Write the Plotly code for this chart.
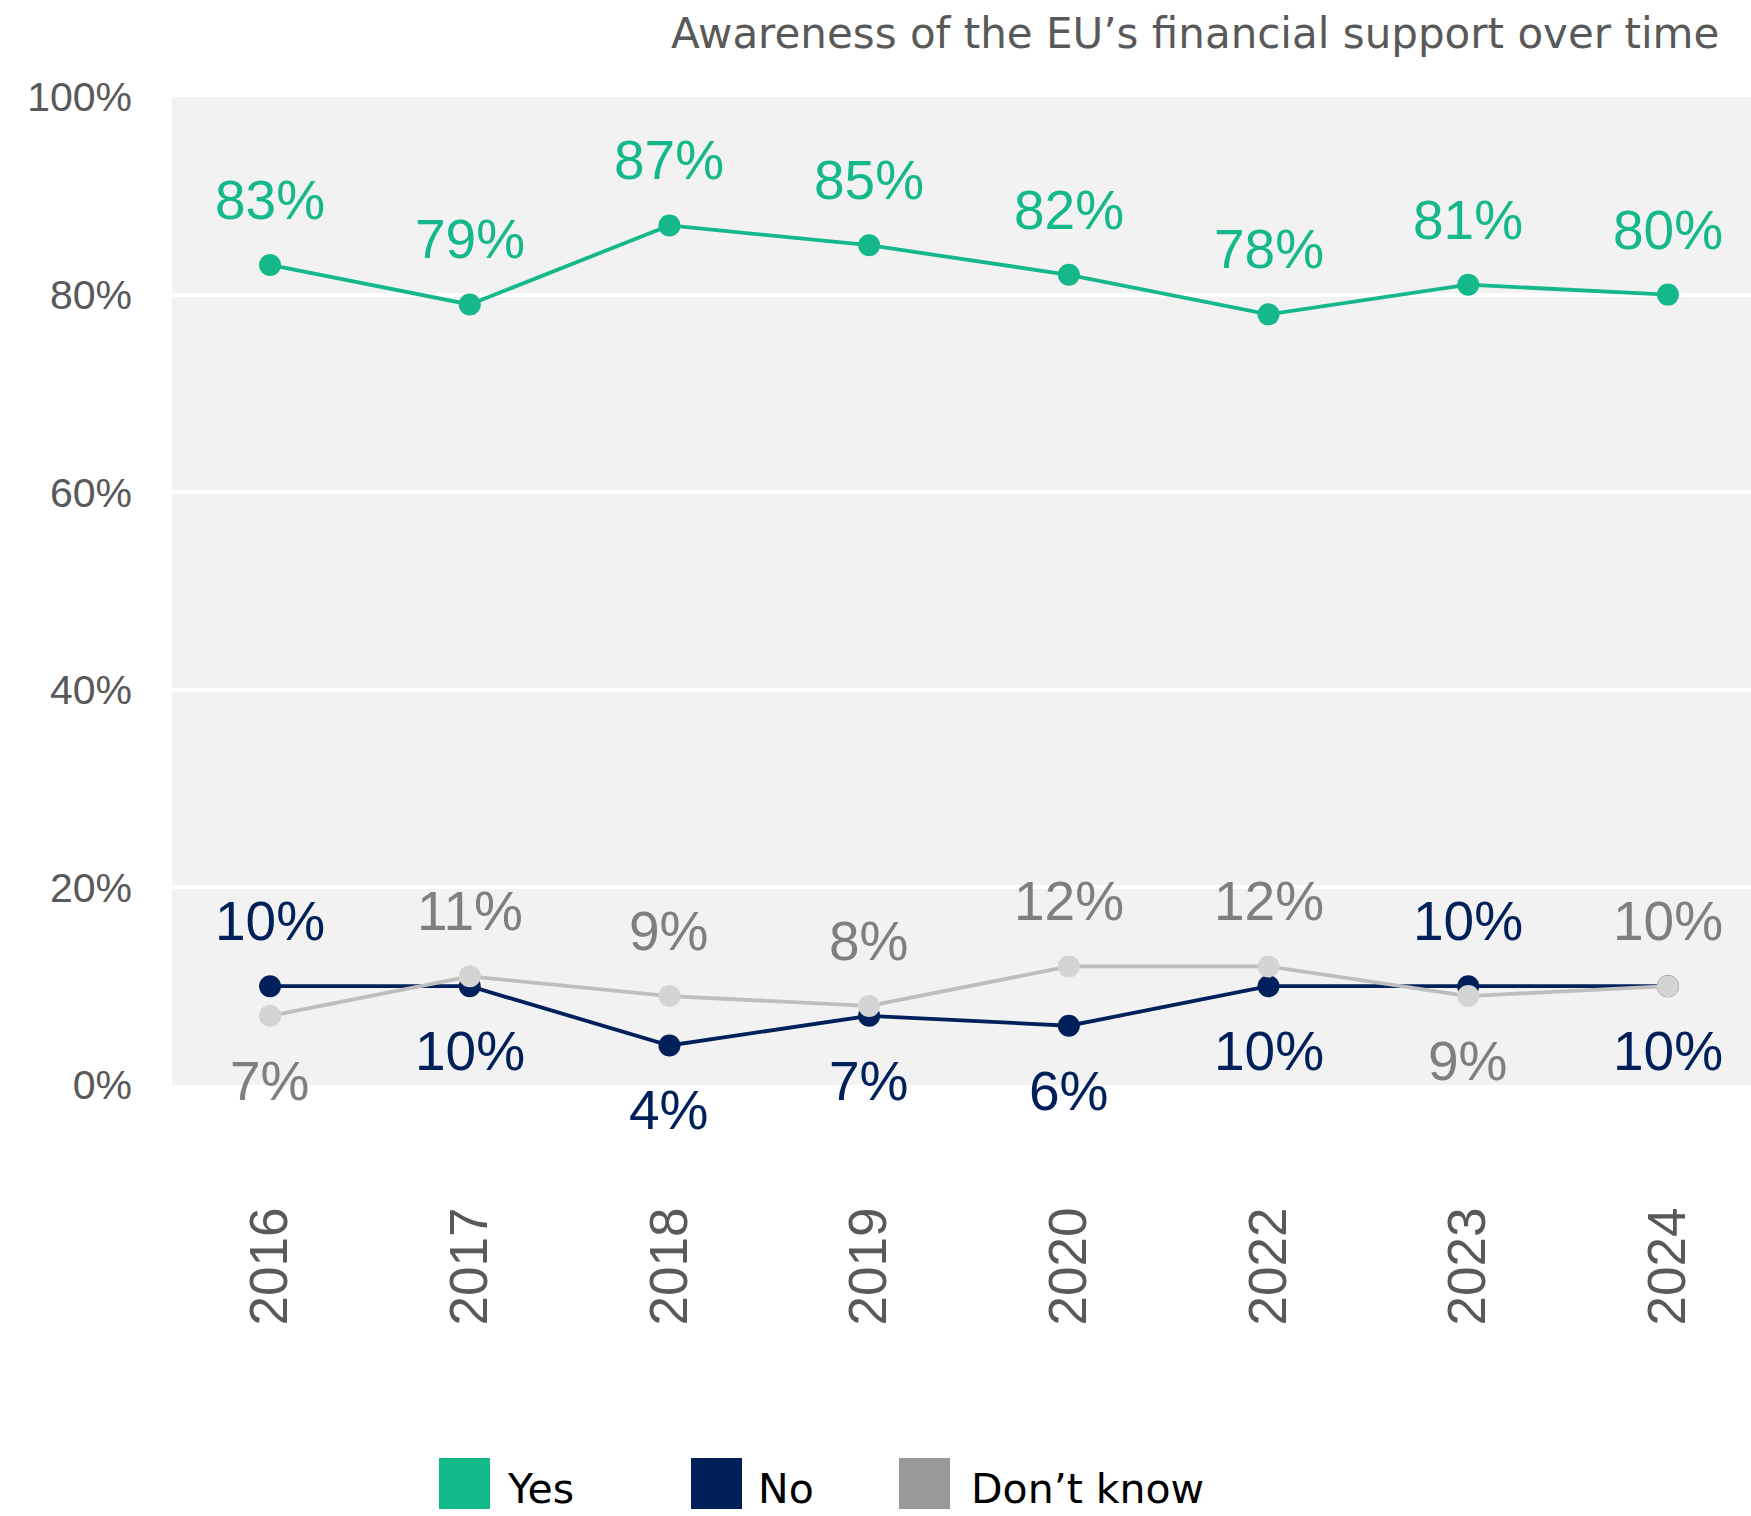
import plotly.graph_objects as go

# ---------------- data ----------------
years = ["2016", "2017", "2018", "2019", "2020", "2022", "2023", "2024"]
yes_vals = [83, 79, 87, 85, 82, 78, 81, 80]
no_vals = [10, 10, 4, 7, 6, 10, 10, 10]
dk_vals = [7, 11, 9, 8, 12, 12, 9, 10]
series_names = ["Yes", "No", "Don\u2019t know"]
y_ticks = [0, 20, 40, 60, 80, 100]
y_tick_labels = ["0%", "20%", "40%", "60%", "80%", "100%"]
title_text = "Awareness of the EU\u2019s financial support over time"

# label placement (style): +1 above point, -1 below point
yes_pos = [1, 1, 1, 1, 1, 1, 1, 1]
no_pos = [1, -1, -1, -1, -1, -1, 1, -1]
dk_pos = [-1, 1, 1, 1, 1, 1, -1, 1]

# ---------------- style ----------------
W, H = 1751, 1516
L, R, T, B = 172, 0, 97, 431
PW, PH = W - L - R, H - T - B

GREEN = "#14B88A"
NAVY = "#00205B"
DK_LINE = "#BEBEBE"
DK_MARK = "#D4D4D4"
DK_TEXT = "#7F7F7F"
AXIS_TEXT = "#595959"

LABEL_FONT = "Liberation Sans, Arial, sans-serif"
UI_FONT = "DejaVu Sans, Open Sans, sans-serif"


def px_x(px):
    return (px - L) / PW


def px_y(py):
    return (H - B - py) / PH


xpos = list(range(len(years)))

fig = go.Figure()

series = [
    (series_names[0], yes_vals, GREEN, GREEN, GREEN, yes_pos),
    (series_names[1], no_vals, NAVY, NAVY, NAVY, no_pos),
    (series_names[2], dk_vals, DK_LINE, DK_MARK, DK_TEXT, dk_pos),
]

annotations = []
for name, vals, lc, mc, tc, pos in series:
    fig.add_trace(
        go.Scatter(
            x=xpos,
            y=vals,
            mode="lines+markers",
            name=name,
            line=dict(color=lc, width=3.8),
            marker=dict(color=mc, size=22),
            showlegend=False,
            hoverinfo="skip",
        )
    )
    for xv, yv, p in zip(xpos, vals, pos):
        annotations.append(
            dict(
                x=xv,
                y=yv,
                xref="x",
                yref="y",
                text=f"{yv}%",
                showarrow=False,
                yshift=65 * p,
                font=dict(family=LABEL_FONT, size=55, color=tc),
                xanchor="center",
                yanchor="middle",
            )
        )

# title
annotations.append(
    dict(
        x=px_x(1721),
        y=px_y(33),
        xref="paper",
        yref="paper",
        text=title_text,
        showarrow=False,
        xanchor="right",
        yanchor="middle",
        font=dict(family=UI_FONT, size=42, color="#595959"),
    )
)

# manual legend
legend_items = [
    (series_names[0], "#14B98A", 439, 505),
    (series_names[1], "#001F5B", 691, 756),
    (series_names[2], "#999999", 899, 969),
]
shapes = []
for name, col, sx, tx in legend_items:
    shapes.append(
        dict(
            type="rect",
            xref="paper",
            yref="paper",
            x0=px_x(sx),
            x1=px_x(sx + 51),
            y0=px_y(1509),
            y1=px_y(1458),
            fillcolor=col,
            line=dict(width=0),
        )
    )
    annotations.append(
        dict(
            x=px_x(tx),
            y=px_y(1489),
            xref="paper",
            yref="paper",
            text=name,
            showarrow=False,
            xanchor="left",
            yanchor="middle",
            font=dict(family=UI_FONT, size=41, color="#000000"),
        )
    )

fig.update_layout(
    width=W,
    height=H,
    margin=dict(l=L, r=R, t=T, b=B, pad=0),
    paper_bgcolor="white",
    plot_bgcolor="#F2F2F2",
    showlegend=False,
    annotations=annotations,
    shapes=shapes,
    xaxis=dict(
        tickmode="array",
        tickvals=xpos,
        ticktext=years,
        range=[-0.491, 7.416],
        showgrid=False,
        zeroline=False,
        showline=False,
        ticks="",
        tickangle=-90,
        tickfont=dict(family=LABEL_FONT, size=53, color=AXIS_TEXT),
        ticklabelstandoff=111,
    ),
    yaxis=dict(
        range=[0, 100],
        tickvals=y_ticks,
        ticktext=y_tick_labels,
        showgrid=True,
        gridcolor="white",
        gridwidth=4,
        zeroline=False,
        showline=False,
        ticks="",
        tickfont=dict(family=LABEL_FONT, size=41, color=AXIS_TEXT),
        ticklabelstandoff=39,
    ),
)

fig.write_html(
    "out.html",
    config={"displayModeBar": False, "staticPlot": True},
    post_script="document.body.style.margin='0';document.body.style.overflow='hidden';",
)
